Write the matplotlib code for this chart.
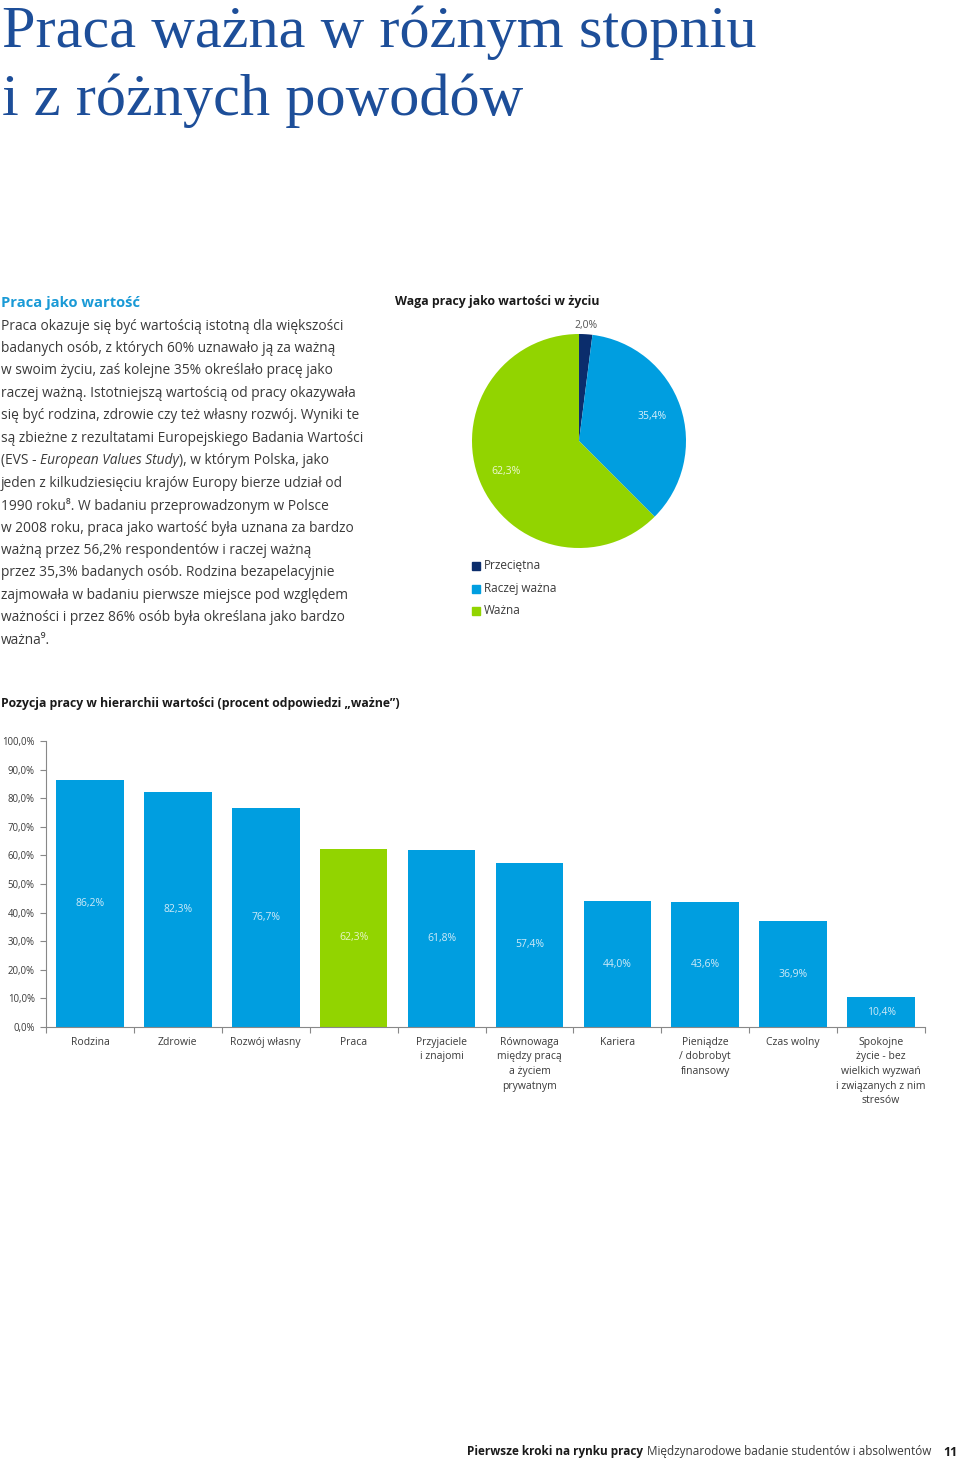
import numpy as np
import matplotlib
matplotlib.use("Agg")
import matplotlib.pyplot as plt

# ---- data ----
pie_labels = ["Przeciętna", "Raczej ważna", "Ważna"]
pie_values = [2.0, 35.4, 62.3]
pie_colors = ["#0b2d6c", "#009ee0", "#92d400"]

categories = ["Rodzina", "Zdrowie", "Rozwój własny", "Praca", "Przyjaciele\ni znajomi",
              "Równowaga\nmiędzy pracą\na życiem\nprywatnym", "Kariera",
              "Pieniądze\n/ dobrobyt\nfinansowy", "Czas wolny",
              "Spokojne\nżycie - bez\nwielkich wyzwań\ni związanych z nim\nstresów"]
values = [86.2, 82.3, 76.7, 62.3, 61.8, 57.4, 44.0, 43.6, 36.9, 10.4]
highlight = "Praca"
yticks = np.arange(0, 101, 10)

body = [
    "Praca okazuje się być wartością istotną dla większości",
    "badanych osób, z których 60% uznawało ją za ważną",
    "w swoim życiu, zaś kolejne 35% określało pracę jako",
    "raczej ważną. Istotniejszą wartością od pracy okazywała",
    "się być rodzina, zdrowie czy też własny rozwój. Wyniki te",
    "są zbieżne z rezultatami Europejskiego Badania Wartości",
    None,  # mixed italic line
    "jeden z kilkudziesięciu krajów Europy bierze udział od",
    "1990 roku⁸. W badaniu przeprowadzonym w Polsce",
    "w 2008 roku, praca jako wartość była uznana za bardzo",
    "ważną przez 56,2% respondentów i raczej ważną",
    "przez 35,3% badanych osób. Rodzina bezapelacyjnie",
    "zajmowała w badaniu pierwsze miejsce pod względem",
    "ważności i przez 86% osób była określana jako bardzo",
    "ważna⁹.",
]

W, H = 960, 1461
SANS = ["Open Sans", "DejaVu Sans"]
TXT = "#3a3a3a"
BODY_FS = 9.9

plt.rcParams['font.family'] = SANS
fig = plt.figure(figsize=(W / 100, H / 100), dpi=100)
renderer = fig.canvas.get_renderer()


def fy(py):
    return 1 - py / H


def fx(px):
    return px / W


# title
fig.text(fx(2), fy(47), "Praca ważna w różnym stopniu", family="Liberation Serif",
         fontsize=43.5, color="#1d4e99", va="baseline")
fig.text(fx(2), fy(115), "i z różnych powodów", family="Liberation Serif",
         fontsize=43.5, color="#1d4e99", va="baseline")

# left text column
fig.text(fx(1), fy(303), "Praca jako wartość", fontsize=10.6, weight="bold",
         color="#1a9ad6", va="center")
y0, dy = 326, 22.45
for i, line in enumerate(body):
    y = y0 + i * dy
    if line is None:
        x = fx(1)
        for part, style in [("(EVS - ", "normal"), ("European Values Study", "italic"),
                            ("), w którym Polska, jako", "normal")]:
            t = fig.text(x, fy(y), part, fontsize=BODY_FS, color=TXT, va="center", style=style)
            bb = t.get_window_extent(renderer)
            x = bb.x1 / W
    else:
        fig.text(fx(1), fy(y), line, fontsize=BODY_FS, color=TXT, va="center")

# pie chart
fig.text(fx(395), fy(302), "Waga pracy jako wartości w życiu", fontsize=8.9,
         weight="bold", color="#1a1a1a", va="center")
r = 107
axp = fig.add_axes([fx(579 - r), fy(441 + r), 2 * r / W, 2 * r / H])
wedges, _ = axp.pie(pie_values, colors=pie_colors, startangle=90, counterclock=False,
                    radius=1)
axp.set_xlim(-1, 1)
axp.set_ylim(-1, 1)
axp.set_aspect("auto")
axp.axis("off")
cum = 0
total = sum(pie_values)
for v, (rr, col) in zip(pie_values, [(1.08, "#555555"), (0.72, "#d9f0fb"), (0.74, "#eef8d4")]):
    mid = 90 - (cum + v / 2) / total * 360
    cum += v
    ang = np.deg2rad(mid)
    axp.text(rr * np.cos(ang), rr * np.sin(ang), f"{v:.1f}%".replace(".", ","),
             ha="center", va="center", fontsize=7.5, color=col)

for i, (lab, c) in enumerate(zip(pie_labels, pie_colors)):
    y = 566 + i * 22.5
    fig.patches.append(plt.Rectangle((fx(472), fy(y + 4)), 8 / W, 8 / H, color=c,
                                     transform=fig.transFigure, figure=fig))
    fig.text(fx(484), fy(y), lab, fontsize=8.5, color=TXT, va="center")

# bar chart
fig.text(fx(1), fy(704), "Pozycja pracy w hierarchii wartości (procent odpowiedzi „ważne”)",
         fontsize=8.8, weight="bold", color="#1a1a1a", va="center")
axb = fig.add_axes([fx(46), fy(1027), (925 - 46) / W, (1027 - 741) / H])
x = np.arange(len(categories))
cols = ["#92d400" if c == highlight else "#009ee0" for c in categories]
axb.bar(x, values, width=0.77, color=cols)
for xi, v, c in zip(x, values, categories):
    tc = "#e8f6c8" if c == highlight else "#cfeaf8"
    axb.text(xi, v / 2, f"{v:.1f}%".replace(".", ","), ha="center", va="center",
             fontsize=7.5, color=tc)
axb.set_xlim(-0.5, len(categories) - 0.5)
axb.set_ylim(0, 100)
axb.set_yticks(yticks)
axb.set_yticklabels([f"{t:.1f}%".replace(".", ",") for t in yticks], fontsize=6.9, color=TXT)
axb.set_xticks(np.arange(-0.5, len(categories)), minor=False)
axb.set_xticklabels([])
axb.tick_params(axis="x", length=4, color="#888888", direction="out")
axb.tick_params(axis="y", length=4, color="#888888", direction="out", pad=4)
for s in ["top", "right"]:
    axb.spines[s].set_visible(False)
for s in ["left", "bottom"]:
    axb.spines[s].set_color("#888888")
    axb.spines[s].set_linewidth(0.8)
for xi, c in zip(x, categories):
    axb.annotate(c, (xi, 0), xytext=(0, -7), textcoords="offset points", ha="center",
                 va="top", fontsize=7.5, color=TXT, linespacing=1.45)

# footer
FOOT_FS = 8.5
fig.text(fx(958), fy(1452), "11", fontsize=FOOT_FS + 0.5, weight="bold", color="#1a1a1a",
         ha="right", va="center")
treg = fig.text(fx(931), fy(1452), "Międzynarodowe badanie studentów i absolwentów",
                fontsize=FOOT_FS, color=TXT, ha="right", va="center")
bb = treg.get_window_extent(renderer)
fig.text((bb.x0 - 4) / W, fy(1452), "Pierwsze kroki na rynku pracy", fontsize=FOOT_FS,
         weight="bold", color="#1a1a1a", ha="right", va="center")

fig.savefig("out.png", dpi=100)
